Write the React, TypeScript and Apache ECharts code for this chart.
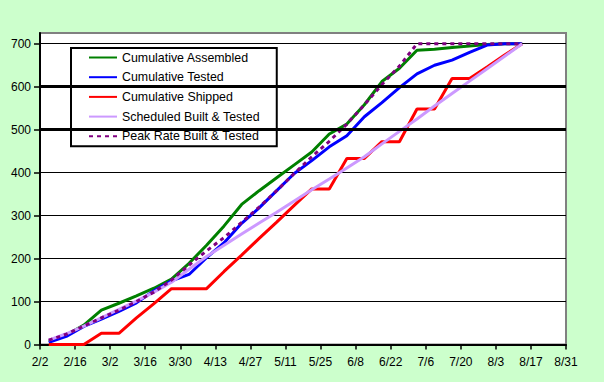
import React, { useEffect, useRef } from "react";
import * as echarts from "echarts";

const FONT = '"Liberation Sans", Arial, sans-serif';

// x tick labels (every 14 days starting 2/2)
const tickLabels = ["2/2", "2/16", "3/2", "3/16", "3/30", "4/13", "4/27", "5/11", "5/25", "6/8", "6/22", "7/6", "7/20", "8/3", "8/17", "8/31"];

// weekly data points, in days after 2/2
const weekDay = [3.5, 10.5, 17.5, 24.5, 31.5, 38.5, 45.5, 52.5, 59.5, 66.5, 73.5, 80.5, 87.5, 94.5, 101.5, 108.5, 115.5, 122.5, 129.5, 136.5, 143.5, 150.5, 157.5, 164.5, 171.5, 178.5, 185.5, 192.5];

const assembled = [8, 22, 45, 80, 96, 113, 131, 152, 189, 231, 276, 326, 358, 388, 418, 448, 490, 513, 558, 612, 643, 685, 687, 691, 695, 698, 700, 700];
const tested = [5, 19, 42, 59, 77, 97, 125, 148, 163, 202, 237, 282, 318, 358, 398, 428, 460, 486, 530, 563, 598, 630, 650, 662, 680, 697, 700, 700];
const shipped = [0, 0, 0, 26, 26, 62, 95, 130, 130, 130, 170, 208, 247, 285, 324, 362, 362, 433, 433, 472, 472, 548, 548, 619, 619, 646, 674, 700];
const scheduled = [10, 25, 43, 62, 82, 101, 122, 145, 175, 205, 231, 257, 283, 308, 334, 360, 385, 411, 437, 467, 496, 525, 555, 584, 613, 642, 671, 700];
const peakRate = [10, 24, 43, 62, 80, 100, 122, 150, 185, 218, 249, 284, 320, 358, 398, 437, 473, 513, 558, 605, 648, 700, 700, 700, 700, 700, 700, 700];

const yTicks = [0, 100, 200, 300, 400, 500, 600, 700];
const heavyLines = [500, 600];

const seriesNames = [
  "Cumulative Assembled",
  "Cumulative Tested",
  "Cumulative Shipped",
  "Scheduled Built & Tested",
  "Peak Rate Built & Tested",
];

function pairs(vals: number[]) {
  return vals.map((v, i) => [weekDay[i], v]);
}

export default function App() {
  const ref = useRef<HTMLDivElement>(null);
  useEffect(() => {
    if (!ref.current) return;
    const chart = echarts.init(ref.current, undefined, { renderer: "svg" });
    const mk = (name: string, vals: number[], color: string, extra: any = {}) => ({
      name,
      type: "line",
      data: pairs(vals),
      symbol: "none",
      showSymbol: false,
      lineStyle: { color, width: 3, ...(extra.lineStyle || {}) },
      itemStyle: { color },
      z: 2,
    });
    chart.setOption({
      animation: false,
      backgroundColor: "#CCFFCC",
      textStyle: { fontFamily: FONT },
      graphic: [
        { type: "rect", shape: { x: 604, y: 0, width: 4, height: 382 }, style: { fill: "#ffffff" } },
      ],
      grid: {
        left: 40,
        right: 42,
        top: 33,
        bottom: 37.5,
        show: true,
        backgroundColor: "#ffffff",
        borderColor: "#808080",
        borderWidth: 2,
        containLabel: false,
        outerBoundsMode: "none",
      },
      legend: {
        data: seriesNames,
        orient: "vertical",
        left: 71,
        top: 48,
        padding: [3.5, 17, 4, 17],
        itemWidth: 28,
        itemHeight: 12,
        itemGap: 7.7,
        backgroundColor: "#ffffff",
        borderColor: "#000000",
        borderWidth: 2,
        borderRadius: 0,
        itemStyle: { opacity: 0, borderWidth: 0 },
        textStyle: { fontSize: 12.4, color: "#000", fontFamily: FONT },
      },
      xAxis: {
        type: "value",
        min: 0,
        max: 210,
        interval: 14,
        axisLine: { show: true, lineStyle: { color: "#000", width: 2 } },
        axisTick: { show: true, length: 5, lineStyle: { color: "#000", width: 1.5 } },
        splitLine: { show: false },
        axisLabel: {
          color: "#000",
          fontSize: 12,
          fontFamily: FONT,
          margin: 11,
          formatter: (v: number) => tickLabels[Math.round(v / 14)] ?? "",
        },
      },
      yAxis: {
        type: "value",
        min: 0,
        max: 725,
        interval: 100,
        axisLine: { show: true, lineStyle: { color: "#000", width: 2 } },
        axisTick: { show: true, length: 6, customValues: yTicks, lineStyle: { color: "#000", width: 1.5 } },
        splitLine: {
          show: true,
          lineStyle: {
            color: ["#000", "#000", "#000", "#000", "#000", "#000", "#000", "#000", "#808080"],
            width: 1,
          },
        },
        axisLabel: {
          color: "#000",
          fontSize: 12,
          fontFamily: FONT,
          margin: 9,
          customValues: yTicks,
          formatter: (v: number) => (v % 100 === 0 ? String(v) : ""),
        },
      },
      series: [
        {
          name: "heavy-grid",
          type: "line",
          data: [],
          z: 1,
          silent: true,
          markLine: {
            silent: true,
            symbol: ["none", "none"],
            label: { show: false },
            lineStyle: { color: "#000", width: 3, type: "solid" },
            data: heavyLines.map((v) => ({ yAxis: v })),
          },
        },
        mk(seriesNames[0], assembled, "#008000"),
        mk(seriesNames[1], tested, "#0000FF"),
        mk(seriesNames[2], shipped, "#FF0000"),
        mk(seriesNames[3], scheduled, "#CC99FF"),
        mk(seriesNames[4], peakRate, "#800080", { lineStyle: { type: [4, 4] } }),
      ],
    });
    return () => chart.dispose();
  }, []);
  return (
    <div
      ref={ref}
      style={{ position: "absolute", left: 0, top: 0, width: 608, height: 382 }}
    />
  );
}
